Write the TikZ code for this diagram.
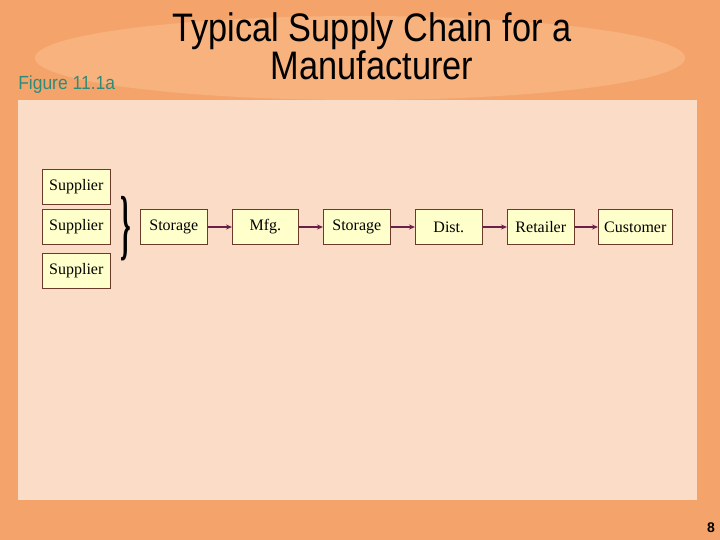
\documentclass[tikz,border=0pt]{standalone}
\usepackage{fontspec}
\setmainfont{Liberation Serif}
\newfontfamily\sansf{Liberation Sans}
\usetikzlibrary{arrows.meta}
\definecolor{bg}{HTML}{F4A46A}
\definecolor{band}{HTML}{F7B27E}
\definecolor{panel}{HTML}{FBDCC6}
\definecolor{boxf}{HTML}{FFFFCC}
\definecolor{boxd}{HTML}{6B3A2A}
\definecolor{arr}{HTML}{6B1F4A}
\definecolor{fig}{HTML}{2E8B7A}
\tikzset{
  bx/.style={draw=boxd,fill=boxf,line width=0.6pt,minimum height=35pt,inner sep=1pt,font=\fontsize{16}{17}\selectfont,anchor=west},
  ar/.style={draw=arr,line width=1.5pt,-{Stealth[length=6pt,width=5pt]}}
}
\begin{document}
\begin{tikzpicture}[x=1pt,y=-1pt]
\fill[bg] (0,0) rectangle (720,540);
\useasboundingbox (0,0) rectangle (720,540);
\fill[band] (360,58) ellipse (325 and 42);
\fill[panel] (18,100) rectangle (697,500);
\node[font=\sansf\fontsize{39}{37}\selectfont,align=center,xscale=0.88,yscale=1.02] (title) at (372,46) {Typical Supply Chain for a\\Manufacturer};
\node[font=\sansf\fontsize{19}{21}\selectfont,text=fig,anchor=west,xscale=0.92] (fig) at (15,85) {Figure 11.1a};
\node[bx,minimum width=68pt] (s1) at (42,187) {Supplier};
\node[bx,minimum width=68pt] (s2) at (42,227) {Supplier};
\node[bx,minimum width=68pt] (s3) at (42,271) {Supplier};
\node[font=\bfseries\fontsize{30}{30}\selectfont,yscale=2.6,xscale=0.9] (br) at (126,229) {\}};
\node[bx,minimum width=67pt] (st1) at (140,227) {Storage};
\node[bx,minimum width=66pt] (mfg) at (232,227) {Mfg.};
\node[bx,minimum width=67pt] (st2) at (323,227) {Storage};
\node[bx,minimum width=67pt] (dist) at (415,227) {Dist.};
\node[bx,minimum width=67pt] (ret) at (507,227) {Retailer};
\node[bx,minimum width=74pt,inner sep=0pt] (cus) at (598,227) {Customer};
\draw[ar] (st1) -- (mfg);
\draw[ar] (mfg) -- (st2);
\draw[ar] (st2) -- (dist);
\draw[ar] (dist) -- (ret);
\draw[ar] (ret) -- (cus);
\node[font=\sansf\bfseries\fontsize{14}{16}\selectfont] (pg) at (711,528) {8};
\end{tikzpicture}
\end{document}
